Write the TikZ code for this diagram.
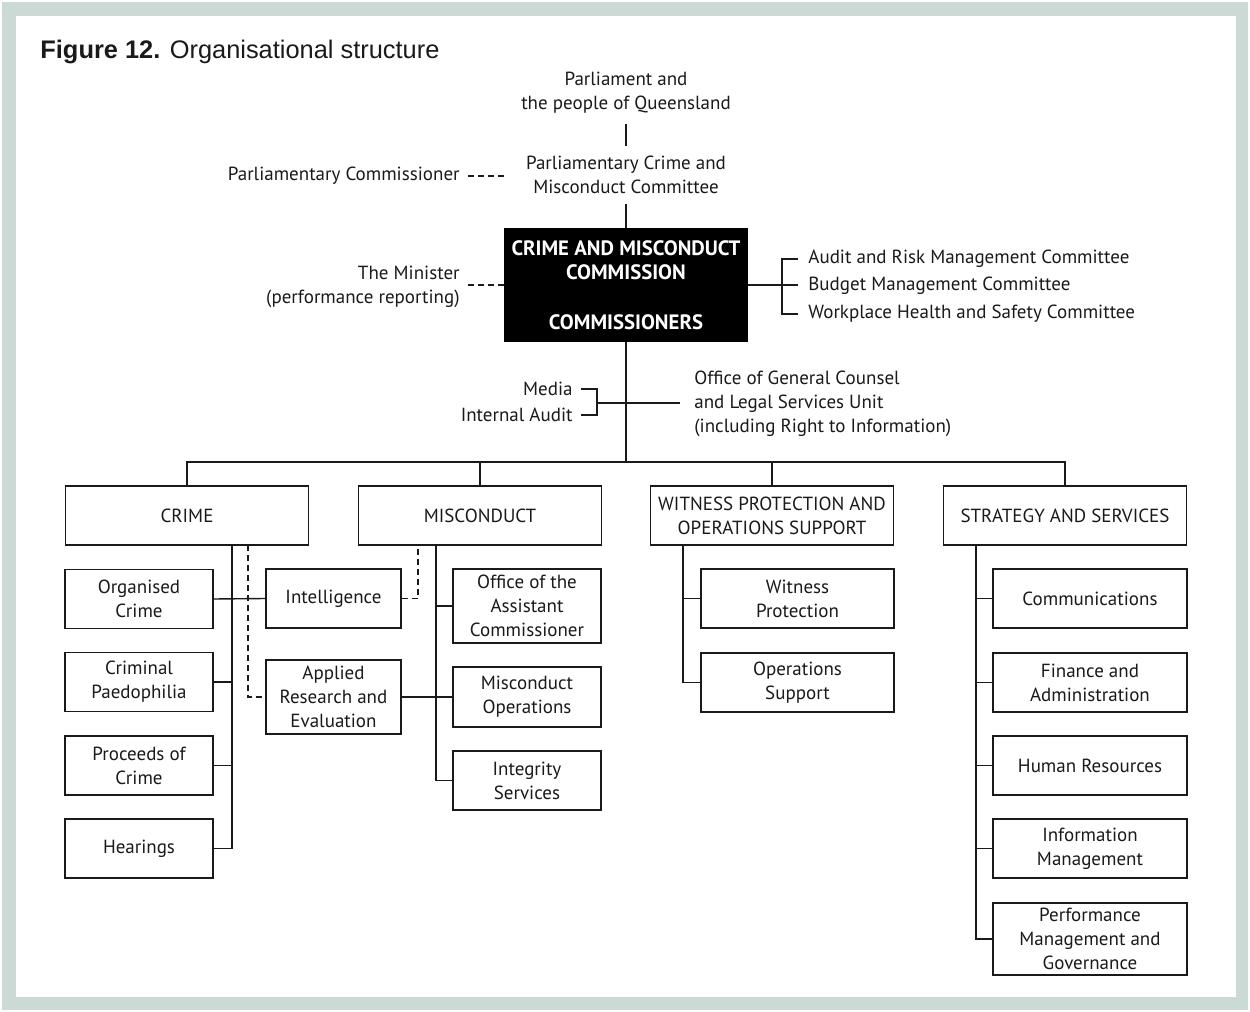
\documentclass[tikz,border=0pt]{standalone}
\usepackage{fontspec}
\setmainfont{PT Sans}
\newfontfamily\titlefont{Liberation Sans}
\definecolor{framec}{HTML}{CBDAD5}
\definecolor{ink}{HTML}{1A1A1A}
\begin{document}
\begin{tikzpicture}[x=0.5pt,y=-0.5pt,
  every node/.style={text=ink, font=\fontsize{9.5}{12}\selectfont},
  txt/.style={inner sep=0pt, align=center},
  box/.style={draw=ink, line width=0.7pt, inner sep=1pt, align=center},
  lvltwo/.style={box, minimum width=121.5pt, minimum height=29.5pt},
  crsub/.style={box, minimum width=74pt, minimum height=29.5pt},
  wsub/.style={box, minimum width=96.5pt, minimum height=29.5pt},
  ssub/.style={box, minimum width=97pt, minimum height=29.5pt},
  conn/.style={draw=ink, line width=0.7pt},
  dconn/.style={conn, dash pattern=on 3pt off 2pt}]
\useasboundingbox (0,0) rectangle (1250,1012);
\fill[framec] (2,2) rectangle (1248,1010);
\fill[white] (16,16) rectangle (1236,997);
\node[anchor=base west, inner sep=0pt, font=\titlefont\fontsize{12.7}{14}\selectfont] (title) at (40,59) {\textbf{Figure 12.} Organisational structure};
% top
\node[txt, inner ysep=5pt] (parl) at (626,93) {Parliament and\\the people of Queensland};
\node[txt, inner ysep=5pt] (pcmc) at (626,175) {Parliamentary Crime and\\Misconduct Committee};
\node[fill=black, minimum width=122pt, minimum height=57pt, inner sep=0pt, align=center, text=white, font=\bfseries\fontsize{10.4}{12}\selectfont] (cmc) at (626,285) {CRIME AND MISCONDUCT\\COMMISSION\\[13pt]COMMISSIONERS};
\node[txt, anchor=east] (pc) at (460,176) {Parliamentary Commissioner};
\node[txt, anchor=east, align=right] (min) at (460,287) {The Minister\\(performance reporting)};
\node[txt, anchor=west] (arm) at (808,259) {Audit and Risk Management Committee};
\node[txt, anchor=west] (bmc) at (808,286) {Budget Management Committee};
\node[txt, anchor=west] (whs) at (808,314) {Workplace Health and Safety Committee};
\node[txt, anchor=east] (media) at (573,389) {Media};
\node[txt, anchor=east] (ia) at (573,415) {Internal Audit};
\node[txt, anchor=west, align=left] (ogc) at (694,404) {Office of General Counsel\\and Legal Services Unit\\(including Right to Information)};
\coordinate (rb) at (782,285);
\coordinate (mb) at (597,403);
\coordinate (bus) at (626,462);
\draw[conn] (parl) -- (pcmc);
\draw[conn] (pcmc) -- (cmc);
\draw[dconn] ([xshift=4pt]pc.east) -- ([xshift=-9.5pt]pcmc.west |- pc.east);
\draw[dconn] ([xshift=4pt]min.east |- cmc.west) -- (cmc.west);
\draw[conn] (cmc.east) -- (rb);
\draw[conn] ([xshift=-5pt]arm.west) -| (rb);
\draw[conn] ([xshift=-5pt]bmc.west |- rb) -- (rb);
\draw[conn] ([xshift=-5pt]whs.west) -| (rb);
\draw[conn] ([xshift=4pt]media.east) -| (mb);
\draw[conn] ([xshift=4pt]ia.east) -| (mb);
\draw[conn] (mb) -- ([xshift=-7pt]ogc.west |- mb);
% level 2
\node[lvltwo] (crime) at (187,515.5) {CRIME};
\node[lvltwo] (misc) at (480,515.5) {MISCONDUCT};
\node[lvltwo] (wit) at (772,515.5) {WITNESS PROTECTION AND\\OPERATIONS SUPPORT};
\node[lvltwo] (strat) at (1065,515.5) {STRATEGY AND SERVICES};
\draw[conn] (cmc.south) -- (bus);
\draw[conn] (crime.north) |- (bus) -| (strat.north);
\draw[conn] (misc.north) -- (misc.north |- bus);
\draw[conn] (wit.north) -- (wit.north |- bus);
% crime
\node[crsub] (org) at (139,599) {Organised\\Crime};
\node[crsub] (cp) at (139,682) {Criminal\\Paedophilia};
\node[crsub] (poc) at (139,765.5) {Proceeds of\\Crime};
\node[crsub] (hear) at (139,848.5) {Hearings};
\node[box, minimum width=67.5pt, minimum height=29.5pt] (intel) at (333.5,598.5) {Intelligence};
\node[box, minimum width=67.5pt, minimum height=37pt] (applied) at (333.5,697) {Applied\\Research and\\Evaluation};
\coordinate (ct) at (232,545);
\coordinate (cd) at (248,545);
\coordinate (md) at (418,545);
\coordinate (mt) at (436,545);
\coordinate (wt) at (683,545);
\coordinate (st) at (976,545);
\draw[conn] (ct) |- (hear.east);
\draw[conn] (org.east) -- (intel.west);
\draw[conn] (cp.east) -- (cp.east -| ct);
\draw[conn] (poc.east) -- (poc.east -| ct);
\draw[dconn] (cd) |- (applied.west);
\draw[dconn] (intel.east) -| (md);
% misconduct
\node[crsub, minimum height=37pt] (oac) at (527,606) {Office of the\\Assistant\\Commissioner};
\node[crsub, minimum height=30pt] (mops) at (527,697) {Misconduct\\Operations};
\node[crsub] (integ) at (527,780.5) {Integrity\\Services};
\draw[conn] (mt) |- (integ.west);
\draw[conn] (oac.west) -- (oac.west -| mt);
\draw[conn] (applied.east) -- (mops.west);
% witness
\node[wsub] (wp) at (797.5,598.5) {Witness\\Protection};
\node[wsub] (ops) at (797.5,682.5) {Operations\\Support};
\draw[conn] (wt) |- (ops.west);
\draw[conn] (wp.west) -- (wp.west -| wt);
% strategy
\node[ssub] (comm) at (1090,598.5) {Communications};
\node[ssub] (fin) at (1090,682.5) {Finance and\\Administration};
\node[ssub] (hr) at (1090,765.5) {Human Resources};
\node[ssub] (im) at (1090,848.5) {Information\\Management};
\node[ssub, minimum height=36pt] (pmg) at (1090,939) {Performance\\Management and\\Governance};
\draw[conn] (st) |- (pmg.west);
\draw[conn] (comm.west) -- (comm.west -| st);
\draw[conn] (fin.west) -- (fin.west -| st);
\draw[conn] (hr.west) -- (hr.west -| st);
\draw[conn] (im.west) -- (im.west -| st);
\end{tikzpicture}
\end{document}
